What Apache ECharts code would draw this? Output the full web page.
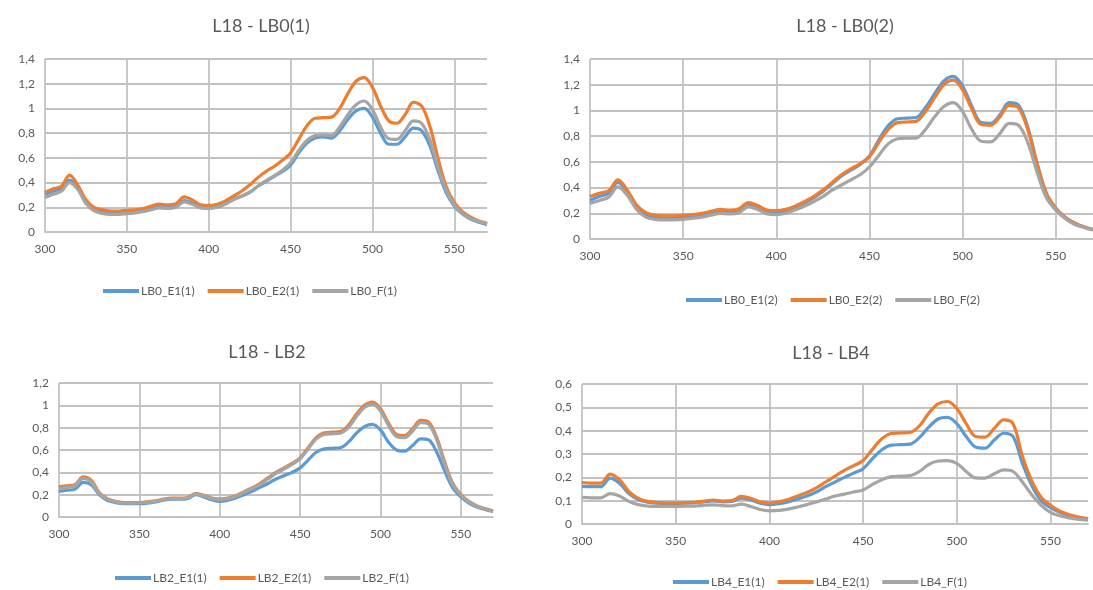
<!DOCTYPE html>
<html>
<head>
<meta charset="utf-8">
<script src="https://cdn.jsdelivr.net/npm/echarts@6/dist/echarts.min.js"></script>
<style>
  html, body { margin: 0; padding: 0; background: #ffffff; }
  #chart { width: 1093px; height: 590px; }
</style>
</head>
<body>
<div id="chart"></div>
<script>
// Wavelength (nm), 5 nm steps
const wavelengths = [300,305,310,315,320,325,330,335,340,345,350,355,360,365,370,375,380,385,390,395,400,405,410,415,420,425,430,435,440,445,450,455,460,465,470,475,480,485,490,495,500,505,510,515,520,525,530,535,540,545,550,555,560,565,570];

const xTicks = [300, 350, 400, 450, 500, 550];

// L18 - LB0(1)
const lb0E1_1 = [.305,.33,.35,.42,.36,.24,.18,.165,.155,.155,.16,.165,.175,.19,.205,.20,.21,.255,.235,.205,.20,.21,.235,.265,.29,.32,.37,.41,.45,.49,.54,.64,.72,.76,.77,.76,.82,.91,.98,1.0,.93,.80,.71,.71,.77,.84,.82,.70,.50,.32,.21,.145,.105,.08,.06];
const lb0E2_1 = [.32,.35,.37,.46,.38,.26,.20,.18,.17,.17,.175,.18,.19,.21,.225,.22,.23,.285,.26,.22,.215,.225,.25,.29,.33,.38,.44,.49,.53,.58,.64,.75,.86,.92,.925,.93,1.0,1.12,1.22,1.25,1.17,1.02,.90,.88,.95,1.05,1.02,.86,.60,.37,.24,.165,.12,.09,.07];
const lb0F_1  = [.28,.305,.33,.40,.345,.23,.17,.15,.143,.143,.148,.155,.165,.18,.195,.19,.20,.243,.225,.195,.19,.20,.225,.26,.29,.32,.37,.415,.455,.50,.56,.66,.74,.78,.785,.78,.85,.95,1.03,1.06,.99,.85,.755,.75,.82,.90,.88,.75,.53,.34,.22,.15,.11,.085,.065];

// L18 - LB0(2)
const lb0E1_2 = [.30,.33,.355,.44,.365,.25,.19,.17,.165,.165,.17,.175,.185,.20,.215,.21,.22,.27,.245,.21,.205,.215,.245,.28,.32,.37,.43,.49,.535,.58,.645,.77,.88,.935,.94,.945,1.02,1.13,1.23,1.265,1.19,1.03,.905,.90,.965,1.06,1.04,.87,.59,.355,.24,.17,.125,.095,.075];
const lb0E2_2 = [.33,.355,.375,.46,.38,.265,.205,.185,.18,.18,.185,.19,.20,.215,.23,.225,.235,.283,.26,.225,.22,.23,.255,.29,.33,.38,.44,.50,.545,.585,.64,.75,.85,.905,.91,.915,.99,1.10,1.20,1.235,1.16,1.01,.89,.885,.95,1.04,1.02,.85,.58,.35,.24,.17,.125,.095,.075];
const lb0F_2  = [.277,.30,.325,.405,.34,.23,.17,.152,.148,.148,.152,.16,.17,.185,.20,.195,.205,.25,.23,.195,.19,.20,.225,.255,.29,.33,.38,.42,.46,.50,.56,.65,.74,.78,.785,.785,.85,.95,1.03,1.06,.99,.85,.76,.755,.82,.90,.885,.75,.52,.32,.225,.16,.115,.09,.07];

// L18 - LB2
const lb2E1_1 = [.23,.24,.25,.31,.29,.20,.15,.13,.12,.12,.12,.125,.135,.15,.16,.16,.165,.20,.18,.155,.14,.15,.17,.20,.23,.265,.30,.34,.37,.40,.44,.51,.58,.61,.615,.62,.67,.75,.81,.83,.78,.67,.60,.59,.64,.70,.69,.58,.41,.26,.18,.125,.09,.068,.05];
const lb2E2_1 = [.27,.28,.29,.36,.33,.22,.165,.14,.13,.13,.13,.135,.145,.16,.17,.17,.175,.21,.195,.17,.16,.17,.19,.225,.26,.30,.35,.40,.44,.48,.53,.62,.71,.755,.76,.765,.82,.92,1.0,1.03,.97,.84,.74,.73,.79,.865,.85,.71,.49,.30,.20,.14,.10,.075,.055];
const lb2F_1  = [.25,.265,.28,.345,.315,.21,.16,.135,.125,.125,.127,.132,.14,.155,.165,.165,.17,.205,.19,.165,.155,.165,.185,.22,.255,.29,.34,.39,.43,.47,.52,.61,.70,.74,.745,.75,.80,.90,.98,1.01,.95,.82,.72,.71,.77,.845,.83,.69,.47,.29,.195,.135,.097,.072,.053];

// L18 - LB4
const lb4E1_1 = [.161,.16,.16,.197,.175,.13,.105,.093,.089,.088,.088,.089,.091,.095,.099,.095,.097,.111,.103,.089,.083,.087,.095,.107,.12,.137,.16,.18,.20,.218,.237,.28,.318,.338,.34,.342,.37,.415,.45,.457,.43,.375,.33,.325,.36,.389,.375,.26,.165,.10,.07,.05,.036,.027,.02];
const lb4E2_1 = [.178,.175,.175,.214,.19,.14,.11,.097,.092,.09,.09,.091,.093,.098,.102,.098,.10,.118,.11,.095,.09,.095,.105,.12,.135,.155,.18,.205,.23,.25,.272,.32,.365,.388,.39,.392,.42,.475,.515,.525,.495,.43,.375,.372,.41,.446,.43,.29,.185,.115,.08,.055,.04,.03,.023];
const lb4F_1  = [.114,.112,.112,.13,.12,.097,.083,.077,.075,.075,.075,.076,.077,.08,.082,.079,.078,.085,.075,.062,.056,.058,.064,.073,.083,.094,.107,.12,.128,.137,.146,.17,.19,.203,.205,.207,.225,.255,.27,.272,.26,.225,.198,.197,.215,.232,.225,.18,.125,.08,.05,.035,.026,.02,.017];

const COLORS = { e1: '#5B9BD5', e2: '#ED7D31', f: '#A5A5A5' };
const FONT = 'Lato, "Open Sans", sans-serif';
const TEXT = '#595959';
const GRID_LINE = '#C2C2C2';

const panels = [
  { title: 'L18 - LB0(1)', titleX: 256, titleY: 12,
    grid: { left: 45, top: 59, width: 442, height: 173 },
    yMax: 1.4, yStep: 0.2, legendLeft: 98, legendTop: 280,
    series: [['LB0_E1(1)', lb0E1_1, 'e1'], ['LB0_E2(1)', lb0E2_1, 'e2'], ['LB0_F(1)', lb0F_1, 'f']] },
  { title: 'L18 - LB0(2)', titleX: 840, titleY: 12,
    grid: { left: 590, top: 59, width: 511, height: 180 },
    yMax: 1.4, yStep: 0.2, legendLeft: 681, legendTop: 289,
    series: [['LB0_E1(2)', lb0E1_2, 'e1'], ['LB0_E2(2)', lb0E2_2, 'e2'], ['LB0_F(2)', lb0F_2, 'f']] },
  { title: 'L18 - LB2', titleX: 262, titleY: 338,
    grid: { left: 59, top: 383, width: 434, height: 134 },
    yMax: 1.2, yStep: 0.2, legendLeft: 110, legendTop: 567,
    series: [['LB2_E1(1)', lb2E1_1, 'e1'], ['LB2_E2(1)', lb2E2_1, 'e2'], ['LB2_F(1)', lb2F_1, 'f']] },
  { title: 'L18 - LB4', titleX: 826, titleY: 339,
    grid: { left: 582, top: 384, width: 506, height: 140 },
    yMax: 0.6, yStep: 0.1, legendLeft: 668, legendTop: 571,
    series: [['LB4_E1(1)', lb4E1_1, 'e1'], ['LB4_E2(1)', lb4E2_1, 'e2'], ['LB4_F(1)', lb4F_1, 'f']] }
];

function commaNumber(v) {
  const r = Math.round(v * 100) / 100;
  return String(r).replace('.', ',');
}

const option = {
  backgroundColor: '#ffffff',
  animation: false,
  title: [], grid: [], xAxis: [], yAxis: [], legend: [], series: []
};

panels.forEach((p, i) => {
  option.title.push({
    text: p.title, left: p.titleX, top: p.titleY, textAlign: 'center',
    textStyle: { fontFamily: FONT, fontSize: 18, fontWeight: 'normal', color: TEXT }
  });
  option.grid.push(Object.assign({ containLabel: false }, p.grid));
  option.xAxis.push({
    gridIndex: i, type: 'value', min: 300, max: 570, interval: 50,
    axisLine: { show: true, lineStyle: { color: GRID_LINE, width: 1.8 } },
    axisTick: { show: false, customValues: xTicks },
    axisLabel: { customValues: xTicks, fontFamily: FONT, fontSize: 12, color: TEXT, margin: 11 },
    splitLine: { show: true, lineStyle: { color: GRID_LINE, width: 1.8 } }
  });
  option.yAxis.push({
    gridIndex: i, type: 'value', min: 0, max: p.yMax, interval: p.yStep,
    axisLine: { show: false }, axisTick: { show: false },
    axisLabel: { fontFamily: FONT, fontSize: 12, color: TEXT, margin: 10, formatter: commaNumber },
    splitLine: { show: true, lineStyle: { color: GRID_LINE, width: 1.8 } }
  });
  option.legend.push({
    left: p.legendLeft, top: p.legendTop, itemGap: 13, itemWidth: 36, itemHeight: 4,
    icon: 'rect',
    data: p.series.map(s => s[0]),
    textStyle: { fontFamily: FONT, fontSize: 12, color: TEXT, padding: [0, 0, 0, -3] }
  });
  p.series.forEach(s => {
    option.series.push({
      name: s[0], type: 'line', xAxisIndex: i, yAxisIndex: i,
      data: wavelengths.map((w, k) => [w, s[1][k]]),
      smooth: 0.35, showSymbol: false, symbol: 'none',
      color: COLORS[s[2]],
      lineStyle: { width: 3.2, color: COLORS[s[2]] },
      emphasis: { disabled: true }
    });
  });
});

const chart = echarts.init(document.getElementById('chart'), null, { renderer: 'canvas' });
chart.setOption(option);
</script>
</body>
</html>
